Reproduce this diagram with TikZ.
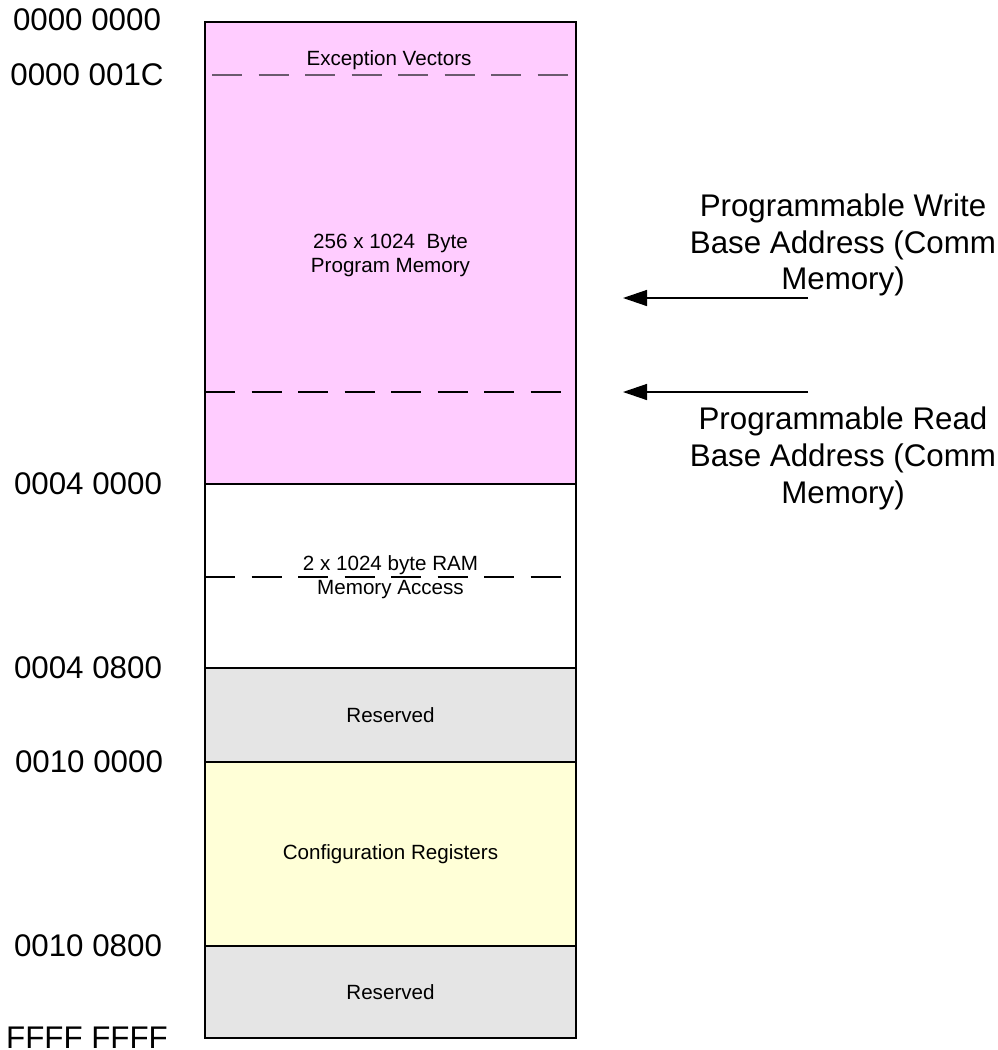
\documentclass[tikz,border=0pt]{standalone}
\usepackage{fontspec}
\setmainfont{Liberation Sans}
\usetikzlibrary{arrows.meta}
\definecolor{progpink}{HTML}{FFCCFF}
\definecolor{cfgyellow}{HTML}{FFFFD7}
\definecolor{resgray}{HTML}{E5E5E5}
\definecolor{topdash}{HTML}{6A5A6E}
\newcommand\smalltxt{\fontsize{20.6}{24}\selectfont}
\newcommand\bigtxt{\fontsize{31.3}{36.7}\selectfont}
\begin{document}
\begin{tikzpicture}[x=1pt,y=-1pt,
  region/.style={draw=black, line width=1.2pt, anchor=north west,
    minimum width=371pt, inner sep=0pt, outer sep=0pt, font=\smalltxt},
  addr/.style={font=\bigtxt, inner sep=0pt, anchor=center},
  lbl/.style={font=\smalltxt, inner sep=0pt, align=center},
  note/.style={font=\bigtxt, inner sep=0pt, align=center},
  dashline/.style={line width=1.2pt, dash pattern=on 30pt off 16.5pt},
  ptr/.style={line width=1.4pt, -{Triangle[length=24pt,width=16pt]}}]
\useasboundingbox (0,0) rectangle (998,1050);
% memory regions
\node[region, fill=progpink, minimum height=462pt] (prog) at (205,22) {};
\node[region, fill=white, minimum height=184pt] (ram) at (205,484) {};
\node[region, fill=resgray, minimum height=94pt] (res1) at (205,668) {Reserved};
\node[region, fill=cfgyellow, minimum height=184pt] (cfg) at (205,762) {Configuration Registers};
\node[region, fill=resgray, minimum height=92pt] (res2) at (205,946) {Reserved};
% dashed separators
\draw[dashline, draw=topdash] (212,75) -- (568,75);
\draw[dashline] (205,392) -- (576,392);
\draw[dashline] (205,577) -- (576,577);
% region texts
\node[lbl] (exc) at (389,60) {Exception Vectors};
\node[lbl] (pm) at (390.5,255) {256 x 1024\ \ Byte\\Program Memory};
\node[lbl] (rama) at (390.5,577) {2 x 1024 byte RAM\\Memory Access};
% address labels
\node[addr] (a1) at (87,20) {0000 0000};
\node[addr] (a2) at (87,75) {0000 001C};
\node[addr] (a3) at (88,484) {0004 0000};
\node[addr] (a4) at (88,668) {0004 0800};
\node[addr] (a5) at (89,762) {0010 0000};
\node[addr] (a6) at (88,946) {0010 0800};
\node[addr] (a7) at (87,1038) {FFFF FFFF};
% pointers
\node[note] (wnote) at (843,245) {Programmable Write\\Base Address (Comm\\Memory)};
\node[note] (rnote) at (843,458.5) {Programmable Read\\Base Address (Comm\\Memory)};
\coordinate (wsrc) at (808,298);
\coordinate (wtip) at (623,298);
\coordinate (rsrc) at (808,392);
\coordinate (rtip) at (623,392);
\draw[ptr] (wsrc) -- (wtip);
\draw[ptr] (rsrc) -- (rtip);
\end{tikzpicture}
\end{document}
